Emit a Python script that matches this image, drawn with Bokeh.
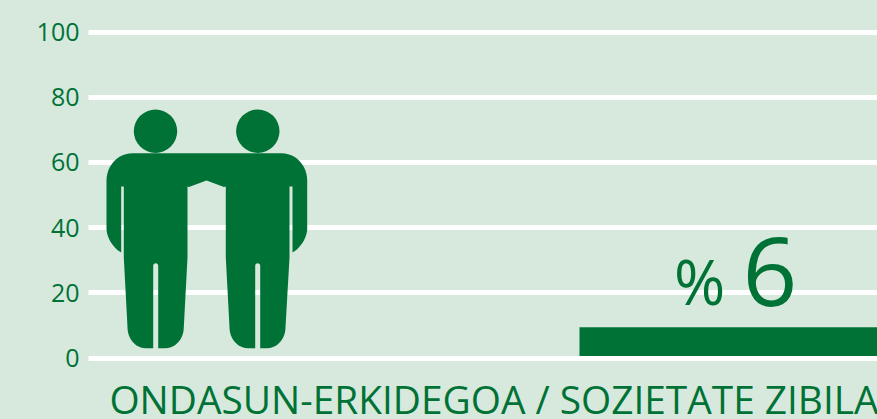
import math

from bokeh.plotting import figure
from bokeh.models import Range1d, FixedTicker
from bokeh.core.properties import value
from bokeh.embed import file_html
from bokeh.resources import INLINE

W, H = 877, 419
BG = "#d7e9dd"
GREEN = "#007236"
FONT = "Open Sans"

# data
tick_values = [0, 20, 40, 60, 80, 100]
category_label = "ONDASUN-ERKIDEGOA / SOZIETATE ZIBILA"
bar_value = [9.45]
value_label = "6"
percent_label = "%"

# layout: pixel positions of the reference
Y0, PX_PER_UNIT = 357.5, 3.26
FR_L, FR_R, FR_T, FR_B = 88, W, 0, H


def vy(py):
    return (Y0 - py) / PX_PER_UNIT


p = figure(width=W, height=H, output_backend="svg", toolbar_location=None,
           x_range=Range1d(FR_L, FR_R), y_range=Range1d(vy(FR_B), vy(FR_T)),
           min_border_left=FR_L, min_border_right=0, min_border_top=0,
           min_border_bottom=0,
           background_fill_color=BG, border_fill_color=BG, outline_line_color=None,
           styles={"position": "fixed", "top": "0", "left": "0", "background-color": BG})

p.xaxis.visible = False
p.xgrid.visible = False
ax = p.yaxis[0]
ax.ticker = FixedTicker(ticks=tick_values)
ax.axis_line_color = None
ax.major_tick_line_color = None
ax.minor_tick_line_color = None
ax.major_tick_in = 0
ax.major_tick_out = 0
ax.major_label_standoff = 9
ax.major_label_text_font = FONT
ax.major_label_text_font_size = "25px"
ax.major_label_text_color = GREEN

g = p.ygrid[0]
g.ticker = FixedTicker(ticks=tick_values)
g.grid_line_color = "white"
g.grid_line_width = 5
g.level = "annotation"

# bar (white baseline grid line is painted over its foot)
p.vbar(x=[728], width=298, bottom=0, top=bar_value, color=GREEN, line_color=None)


def corner(a, c, b, n=12):
    """Quarter ellipse from a to b, whose square corner is c."""
    out = []
    for i in range(n + 1):
        th = math.pi / 2 * i / n
        s, k = 1 - math.sin(th), 1 - math.cos(th)
        out.append((c[0] + (a[0] - c[0]) * s + (b[0] - c[0]) * k,
                    c[1] + (a[1] - c[1]) * s + (b[1] - c[1]) * k))
    return out


def leg(l_top, l_low, fl, sl, sr, fr, r_low, r_top):
    """One torso bottom from left side to right side with the slit between the legs."""
    pts = [(l_top, 257), (l_low, 326.7)]
    pts += corner((l_low, 326.7), (l_low, 347.7), (fl, 347.7))
    pts += [(sl, 347.7), (sl, 265)]
    mid = (sl + sr) / 2
    pts += corner((sl, 265), (sl, 262.8), (mid, 262.8), 4)
    pts += corner((mid, 262.8), (sr, 262.8), (sr, 265), 4)
    pts += [(sr, 347.7), (fr, 347.7)]
    pts += corner((fr, 347.7), (r_low, 347.7), (r_low, 326.7))
    pts += [(r_top, 257)]
    return pts


outline = []
outline += corner((106, 180), (106, 152.7), (132, 152.7))
outline += [(281, 152.7)]
outline += corner((281, 152.7), (306.7, 152.7), (306.7, 180))
outline += [(306.7, 228)]
outline += corner((306.7, 228), (306.7, 244), (292, 252))
outline += [(292, 186), (289, 186)]
outline += list(reversed(leg(225.3, 229, 247.3, 254.7, 259.7, 266.7, 285, 289)))
outline += [(225.3, 186), (223.5, 186.5), (206, 180), (188.5, 186.5), (187, 186)]
outline += list(reversed(leg(123.3, 127, 145, 152.7, 157.7, 165, 183.3, 187)))
outline += [(123.3, 186), (120.7, 186), (120.7, 252)]
outline += corner((120.7, 252), (106, 244), (106, 228))

p.patch([q[0] for q in outline], [vy(q[1]) for q in outline], color=GREEN,
        line_color=None, level="overlay")
p.scatter([155, 257.3], [vy(130.7)] * 2, size=43.4, color=GREEN, line_color=None,
          marker="circle", level="overlay")


# texts
def txt(x, py, s, size, align="left"):
    p.text(x=[x], y=[vy(py)], text=[s], text_font=value(FONT), text_font_size=value(f"{size}px"),
           text_color=GREEN, text_baseline="alphabetic", text_align=align, level="overlay")


# anchors sit above the visible baseline: the SVG backend draws this text lower than its anchor
txt(673.5, 280, percent_label, 62)
txt(742, 270.5, value_label, 96)
txt(878, 398, category_label, 38.8, "right")

open("out.html", "w").write(file_html(p, INLINE))
